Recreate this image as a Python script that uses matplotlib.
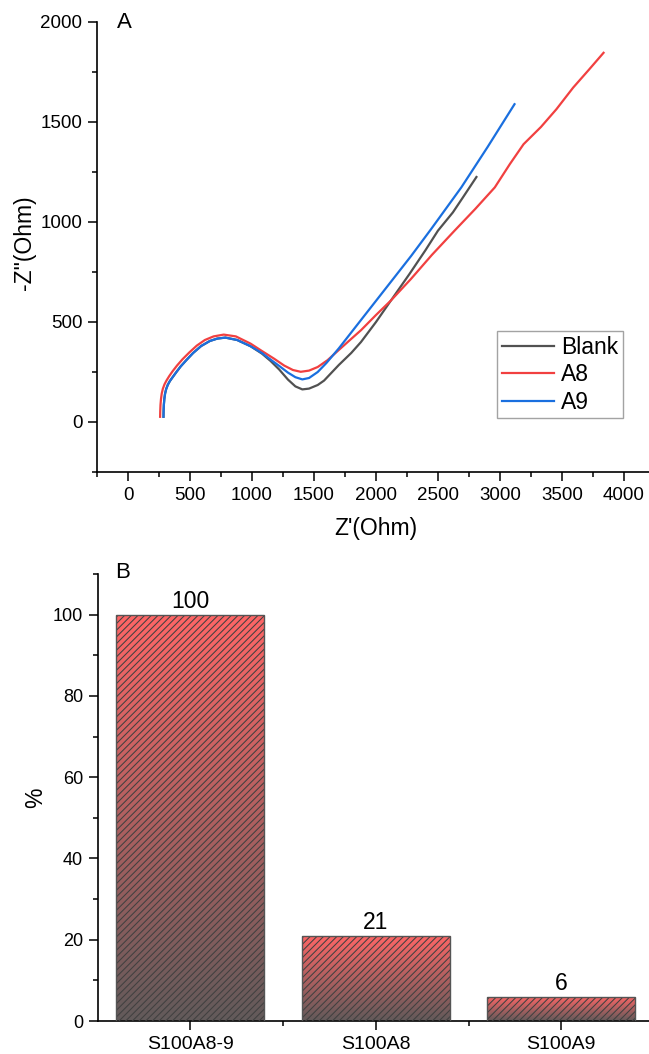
import matplotlib.pyplot as plt
import numpy as np
from matplotlib.colors import LinearSegmentedColormap
from matplotlib.ticker import MultipleLocator

plt.rcParams['font.family'] = ['Liberation Sans', 'DejaVu Sans']
plt.rcParams['hatch.linewidth'] = 0.75

# Panel A: Nyquist plots, Z'(Ohm) vs -Z''(Ohm)
blank_x = [286, 287, 289, 293, 299, 308, 321, 338, 360, 388, 425, 470, 525, 590, 660, 720,
           785, 880, 988, 1080, 1150, 1220, 1290, 1350, 1406, 1460, 1530, 1581, 1700, 1800,
           1879, 2000, 2121, 2271, 2400, 2500, 2620, 2701, 2810]
blank_y = [26, 55, 85, 115, 142, 165, 186, 205, 224, 248, 278, 309, 345, 380, 405, 417,
           422, 410, 379, 342, 305, 262, 212, 178, 163, 167, 185, 207, 285, 345,
           400, 500, 608, 741, 860, 957, 1048, 1123, 1225]

a8_x = [259, 260, 262, 266, 272, 281, 294, 311, 333, 360, 395, 440, 495, 555, 620, 690,
        772, 870, 988, 1080, 1177, 1260, 1330, 1393, 1460, 1530, 1609, 1700, 1790, 1879,
        2000, 2121, 2283, 2450, 2634, 2800, 2958, 3080, 3190, 3330, 3455, 3590, 3715, 3835]
a8_y = [26, 55, 85, 115, 142, 166, 188, 208, 230, 254, 282, 314, 348, 382, 410, 428,
        437, 428, 392, 355, 317, 282, 260, 251, 257, 275, 309, 360, 410, 459,
        535, 608, 716, 835, 957, 1065, 1173, 1290, 1389, 1475, 1564, 1672, 1760, 1846]

a9_x = [286, 287, 289, 293, 299, 308, 321, 338, 360, 388, 425, 470, 525, 590, 660, 720,
        785, 880, 988, 1080, 1150, 1220, 1290, 1350, 1406, 1460, 1530, 1600, 1700, 1879,
        2100, 2283, 2445, 2688, 2900, 3117]
a9_y = [26, 55, 85, 115, 142, 165, 186, 205, 224, 248, 278, 309, 345, 380, 405, 417,
        422, 410, 379, 345, 312, 280, 247, 224, 213, 220, 250, 295, 368, 510,
        685, 830, 965, 1173, 1375, 1589]

# Panel B: relative response (%)
categories = ['S100A8-9', 'S100A8', 'S100A9']
percent = [100, 21, 6]

W, H = 649, 1054
fig = plt.figure(figsize=(W / 100, H / 100), dpi=100)


def style_axes(ax):
    ax.spines['top'].set_visible(False)
    ax.spines['right'].set_visible(False)
    for s in ['left', 'bottom']:
        ax.spines[s].set_linewidth(1.2)
    ax.tick_params(which='major', direction='out', length=6.5, width=1.1, pad=4)
    ax.tick_params(which='minor', direction='out', length=3.5, width=1.1)


# ---- Panel A ----
axA = fig.add_axes([97 / W, 1 - 472 / H, 558 / W, 450 / H])
axA.plot(blank_x, blank_y, color='#515151', lw=1.6, label='Blank')
axA.plot(a8_x, a8_y, color='#F14040', lw=1.6, label='A8')
axA.plot(a9_x, a9_y, color='#1A6FDF', lw=1.6, label='A9')
axA.set_xlim(-250, 4250)
axA.set_ylim(-250, 2000)
axA.xaxis.set_major_locator(MultipleLocator(500))
axA.xaxis.set_minor_locator(MultipleLocator(250))
axA.yaxis.set_major_locator(MultipleLocator(500))
axA.yaxis.set_minor_locator(MultipleLocator(250))
style_axes(axA)
axA.tick_params(labelsize=13.5)
axA.set_xlabel("Z'(Ohm)", fontsize=16.5)
axA.set_ylabel('-Z"(Ohm)', fontsize=16.5)
axA.xaxis.set_label_coords(0.5, -0.1)
axA.yaxis.set_label_coords(-0.11, 0.51)
axA.text(124 / W, 1 - 23 / H, 'A', transform=fig.transFigure, fontsize=16,
         ha='center', va='center')
leg = axA.legend(loc='upper left', bbox_to_anchor=(497 / W, 1 - 331 / H),
                 bbox_transform=fig.transFigure, borderaxespad=0, fontsize=16.5,
                 frameon=True, fancybox=False, handlelength=2.3, handletextpad=0.3,
                 labelspacing=0.2, borderpad=0.2)
leg.get_frame().set_edgecolor('#8c8c8c')
leg.get_frame().set_linewidth(1.0)

# ---- Panel B ----
axB = fig.add_axes([97.5 / W, 1 - 1021 / H, 556.5 / W, 447 / H])
xpos = np.arange(len(categories))
grad = LinearSegmentedColormap.from_list('rg', ['#625A5A', '#FF6666'])
bars = axB.bar(xpos, percent, width=0.8, color='none', edgecolor='none', zorder=2)
for b in bars:
    x0, w, h = b.get_x(), b.get_width(), b.get_height()
    im = axB.imshow(np.linspace(0, 1, 256).reshape(-1, 1), cmap=grad, origin='lower',
                    extent=[x0, x0 + w, 0, h], aspect='auto', zorder=1)
    im.set_clip_path(b)
axB.bar(xpos, percent, width=0.8, color='none', edgecolor='#404040', hatch='/////',
        linewidth=0, zorder=3)
axB.bar(xpos, percent, width=0.8, color='none', edgecolor='#555555', linewidth=1.0,
        zorder=4)
for xp, v in zip(xpos, percent):
    axB.annotate(str(v), (xp, v), xytext=(0, 1.5), textcoords='offset points',
                 ha='center', va='bottom', fontsize=16.5)
axB.set_xlim(-0.5, 2.5)
axB.set_ylim(0, 110)
axB.set_xticks(xpos)
axB.set_xticklabels(categories)
axB.set_xticks([0.5, 1.5], minor=True)
axB.yaxis.set_major_locator(MultipleLocator(20))
axB.yaxis.set_minor_locator(MultipleLocator(10))
style_axes(axB)
axB.tick_params(axis='x', labelsize=14)
axB.tick_params(axis='y', labelsize=13)
axB.set_ylabel('%', fontsize=16.5)
axB.yaxis.set_label_coords(-0.09, 0.5)
axB.text(123 / W, 1 - 572 / H, 'B', transform=fig.transFigure, fontsize=16,
         ha='center', va='center')

fig.savefig('out.png', dpi=100)
